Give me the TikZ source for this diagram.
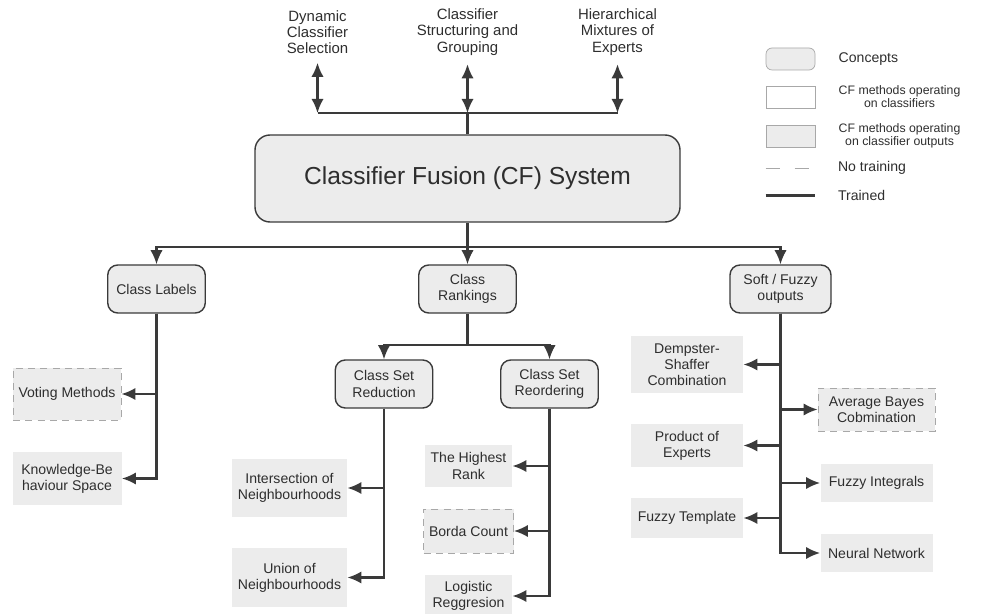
\documentclass[tikz,border=0pt]{standalone}
\usepackage{fontspec}
\setmainfont{Liberation Sans}
\usepackage{tikz}
\usetikzlibrary{shapes,arrows,arrows.meta,positioning}
\definecolor{boxgray}{HTML}{ECECEC}
\definecolor{linegray}{HTML}{3A3A3A}
\definecolor{textgray}{HTML}{2E2E2E}
\definecolor{dashgray}{HTML}{A8A8A8}
\tikzstyle{system} = [thick, rectangle, rounded corners=0.3cm, minimum width=8.5cm, minimum height=1.74cm, draw=linegray, fill=boxgray, font=\fontsize{14}{16}\selectfont]
\tikzstyle{concept} = [thick, rectangle, rounded corners=0.2cm, minimum width=1.95cm, minimum height=0.96cm, align=center, draw=linegray, fill=boxgray]
\tikzstyle{method} = [rectangle, minimum width=2.24cm, minimum height=0.8cm, align=center, fill=boxgray, inner sep=2pt]
\tikzstyle{untrained} = [method, draw=dashgray, dash pattern=on 4pt off 3pt]
\tikzstyle{toplabel} = [align=center, inner sep=5pt, font=\fontsize{8.5}{9.2}\selectfont]
\tikzstyle{legconcept} = [rectangle, rounded corners=0.12cm, minimum width=0.98cm, minimum height=0.44cm, draw=dashgray, fill=boxgray]
\tikzstyle{legclassifier} = [rectangle, minimum width=0.98cm, minimum height=0.44cm, draw=dashgray, fill=white]
\tikzstyle{legoutput} = [legclassifier, fill=boxgray]
\tikzstyle{legtext} = [inner sep=0pt, align=center, anchor=west]
\tikzstyle{link} = [line width=1.2pt, draw=linegray]
\tikzstyle{arrow} = [link, ->, >={Latex[length=8pt,width=7pt]}]
\tikzstyle{both} = [link, <->, >={Latex[length=8pt,width=7pt]}]

\begin{document}
\begin{tikzpicture}[on grid, font=\fontsize{8}{9.2}\selectfont, text=textgray]
\useasboundingbox (0,0) rectangle (19.66,-12.28);

\node(cf)           [system] at (9.35,-3.57)                              {Classifier Fusion (CF) System};
\node(grouping)     [toplabel, above=2.93cm of cf]                        {Classifier\\Structuring and\\Grouping};
\node(selection)    [toplabel, left=3cm of grouping]                      {Dynamic\\Classifier\\Selection};
\node(mixtures)     [toplabel, right=3cm of grouping]                     {Hierarchical\\Mixtures of\\Experts};
\coordinate[above=1.31cm of cf] (topbar);
\coordinate[below=1.37cm of cf] (split);

\node(rankings)     [concept, below=2.21cm of cf]                         {Class\\Rankings};
\node(labels)       [concept, left=6.22cm of rankings]                    {Class Labels};
\node(soft)         [concept, right=6.26cm of rankings, minimum width=2.02cm] {Soft / Fuzzy\\outputs};
\coordinate[below=1.12cm of rankings] (rsplit);
\node(reduction)    [concept, below left=1.9cm and 1.67cm of rankings]    {Class Set\\Reduction};
\node(reordering)   [concept, right=3.31cm of reduction]                  {Class Set\\Reordering};

\node(voting)       [untrained, below left=2.1cm and 1.79cm of labels, minimum width=2.16cm, minimum height=1.04cm] {Voting Methods};
\node(knowledge)    [method, below=1.69cm of voting, minimum width=2.18cm, minimum height=1.06cm] {Knowledge-Be\\haviour Space};
\node(intersection) [method, below left=2.08cm and 1.89cm of reduction, minimum width=2.3cm, minimum height=1.16cm] {Intersection of\\Neighbourhoods};
\node(union)        [method, below=1.79cm of intersection, minimum width=2.3cm, minimum height=1.18cm] {Union of\\Neighbourhoods};
\node(highest)      [method, below left=1.64cm and 1.62cm of reordering, minimum width=1.74cm, minimum height=0.84cm] {The Highest\\Rank};
\node(borda)        [untrained, below=1.3cm of highest, minimum width=1.8cm, minimum height=0.88cm] {Borda Count};
\node(logistic)     [method, below=1.3cm of borda, minimum width=1.74cm, minimum height=0.84cm] {Logistic\\Reggresion};
\node(dempster)     [method, below left=1.51cm and 1.87cm of soft, minimum height=1.14cm] {Dempster-\\Shaffer\\Combination};
\node(product)      [method, below=1.62cm of dempster, minimum height=0.86cm] {Product of\\Experts};
\node(template)     [method, below=1.45cm of product]                     {Fuzzy Template};
\node(bayes)        [untrained, below right=2.41cm and 1.92cm of soft, minimum width=2.34cm, minimum height=0.86cm] {Average Bayes\\Cobmination};
\node(integrals)    [method, below=1.47cm of bayes, minimum height=0.76cm] {Fuzzy Integrals};
\node(neural)       [method, below=1.4cm of integrals, minimum height=0.76cm] {Neural Network};

\node(lconcept)     [legconcept, above right=2.39cm and 6.46cm of cf]     {};
\node(lclassifier)  [legclassifier, below=0.76cm of lconcept]             {};
\node(loutput)      [legoutput, below=0.78cm of lclassifier]              {};
\coordinate[below=0.42cm of loutput.south west] (notrainA);
\coordinate[right=0.98cm of notrainA] (notrainB);
\coordinate[below=0.54cm of notrainA] (trainedA);
\coordinate[right=0.98cm of trainedA] (trainedB);
\node(tconcept)     [right=0.46cm of lconcept.east, legtext]              {Concepts};
\node(tclassifier)  [right=0.46cm of lclassifier.east, legtext, font=\fontsize{7}{7.4}\selectfont] {CF methods operating\\on classifiers};
\node(toutput)      [right=0.46cm of loutput.east, legtext, font=\fontsize{7}{7.4}\selectfont] {CF methods operating\\on classifier outputs};
\node(tnotrain)     [right=0.46cm of notrainB, legtext]                   {No training};
\node(ttrained)     [right=0.46cm of trainedB, legtext]                   {Trained};
\draw [draw=dashgray, thick, dash pattern=on 0.28cm off 0.3cm] (notrainA) -- (notrainB);
\draw [link, line width=1.4pt] (trainedA) -- (trainedB);

\draw [link]  (cf.north) -- (topbar);
\draw [link]  (topbar -| selection) -- (topbar -| mixtures);
\draw [both]  (selection.south) -- (selection.south |- topbar);
\draw [both]  (grouping.south) -- (grouping.south |- topbar);
\draw [both]  (mixtures.south) -- (mixtures.south |- topbar);

\draw [link]  (cf.south) -- (split);
\draw [arrow] (split) -| (labels);
\draw [arrow] (split) -- (rankings);
\draw [arrow] (split) -| (soft);
\draw [link]  (rankings) -- (rsplit);
\draw [arrow] (rsplit) -| (reduction);
\draw [arrow] (rsplit) -| (reordering);

\draw [arrow] (labels) |- (voting);
\draw [arrow] (labels) |- (knowledge);
\draw [arrow] (reduction) |- (intersection);
\draw [arrow] (reduction) |- (union);
\draw [arrow] (reordering) |- (highest);
\draw [arrow] (reordering) |- (borda);
\draw [arrow] (reordering) |- (logistic);
\draw [arrow] (soft) |- (dempster);
\draw [arrow] (soft) |- (product);
\draw [arrow] (soft) |- (template);
\draw [arrow] (soft) |- (bayes);
\draw [arrow] (soft) |- (integrals);
\draw [arrow] (soft) |- (neural);

\end{tikzpicture}
\end{document}
